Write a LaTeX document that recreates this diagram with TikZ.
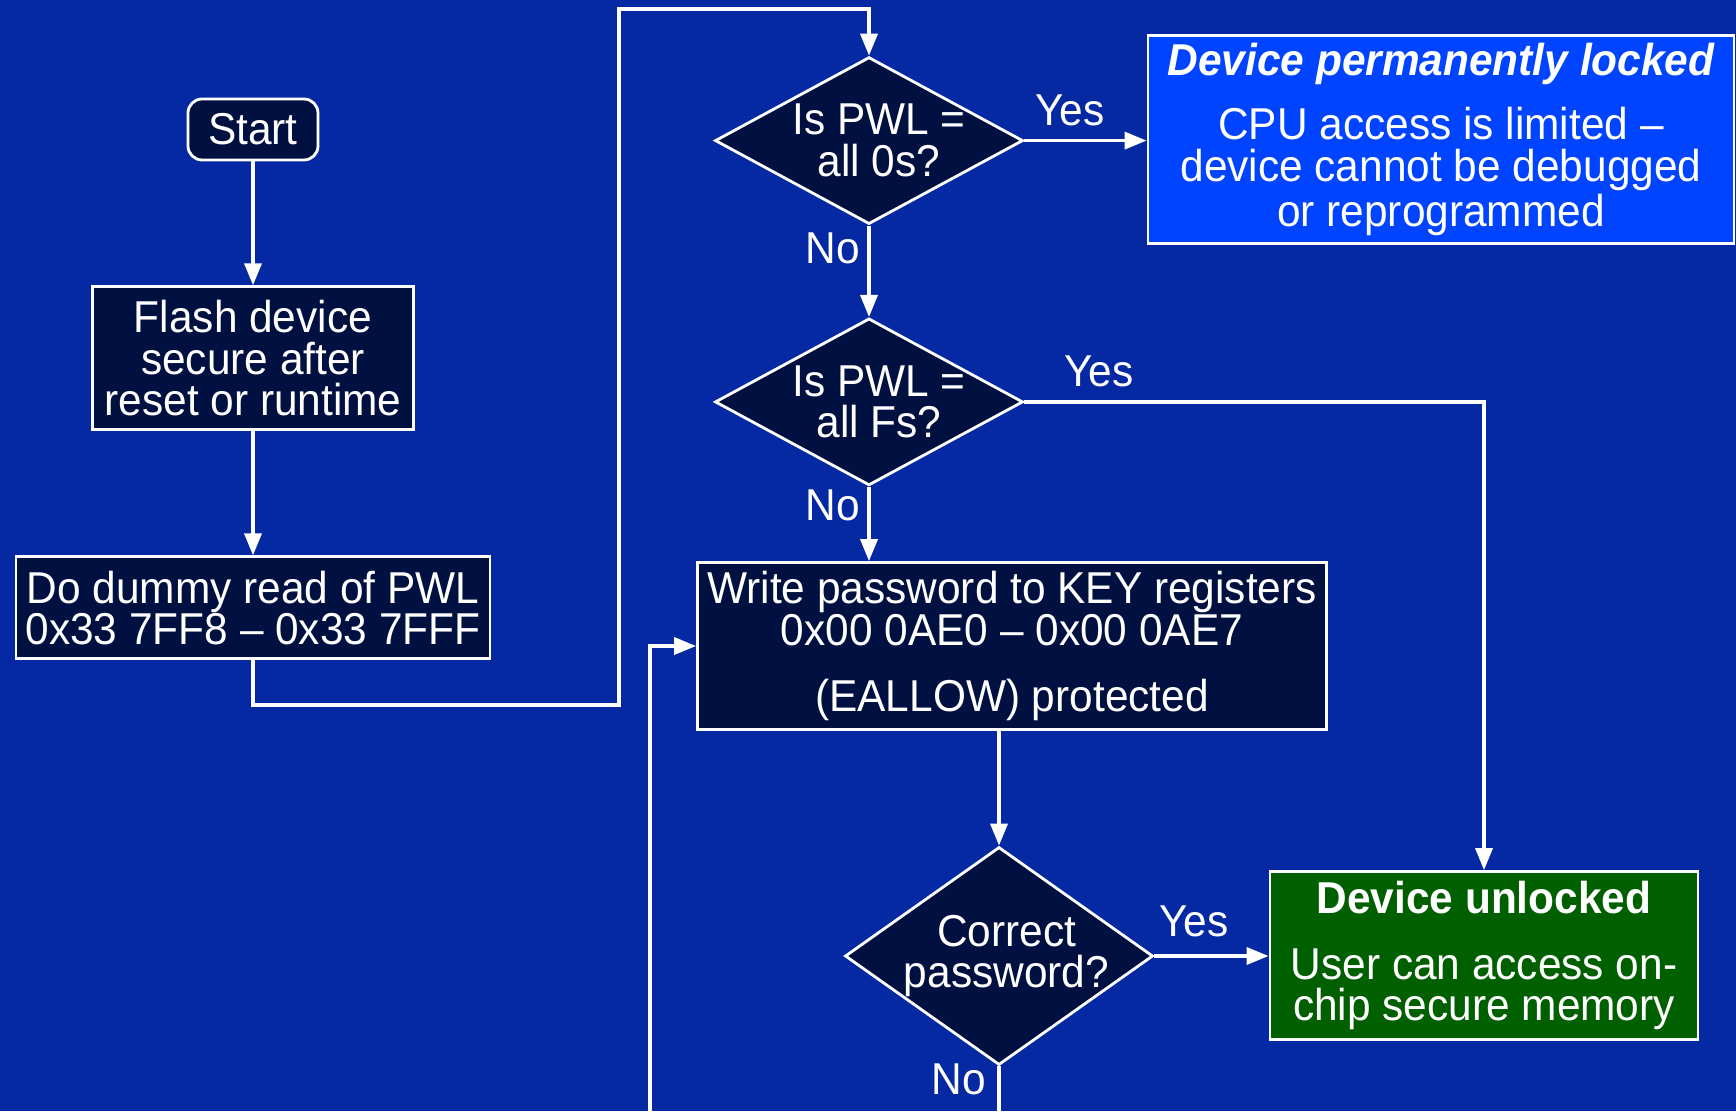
\documentclass[tikz,border=0pt]{standalone}
\usepackage{fontspec}
\setmainfont{Liberation Sans}[FakeStretch=0.95]
\usetikzlibrary{shapes.geometric,arrows.meta}
\definecolor{slideblue}{RGB}{5,41,163}
\definecolor{navybox}{RGB}{0,16,64}
\definecolor{lockblue}{RGB}{0,68,255}
\definecolor{unlockgreen}{RGB}{0,96,0}
\begin{document}
\begin{tikzpicture}[
    >={Triangle[length=2.2mm,width=1.7mm]},
    font=\fontsize{12.7}{11.8}\selectfont,
    flowbox/.style={rectangle, draw=white, line width=0.8pt, fill=navybox, text=white, align=center, inner sep=0pt},
    decision/.style={diamond, draw=white, line width=0.8pt, fill=navybox, text=white, align=center, inner sep=-2pt, aspect=1.84, minimum width=3.08cm, minimum height=1.67cm},
    link/.style={draw=white, line width=1pt},
    answer/.style={text=white}
]
    % background
    \fill[slideblue] (0,0) rectangle (17.36,11.11);
    \clip (0,0) rectangle (17.36,11.11);

    % left column
    \node[flowbox, rounded corners=4pt, minimum width=1.3cm, minimum height=0.61cm] (start) at (2.53,9.815) {Start};
    \node[flowbox, minimum width=3.21cm, minimum height=1.43cm] (secure) at (2.53,7.528) {Flash device\\secure after\\reset or runtime};
    \node[flowbox, minimum width=4.74cm, minimum height=1.02cm] (dummy) at (2.53,5.032) {Do dummy read of PWL\\0x33 7FF8 – 0x33 7FFF};

    \draw[link, ->] (start) -- (secure);
    \draw[link, ->] (secure) -- (dummy);

    % password checks
    \node[decision] (pwlzero) at (8.69,9.704) {\hspace*{0.2cm}Is PWL =\\\hspace*{0.2cm}all 0s?};
    \node[decision] (pwlone) at (8.69,7.091) {\hspace*{0.2cm}Is PWL =\\\hspace*{0.2cm}all Fs?};
    \node[flowbox, minimum width=6.29cm, minimum height=1.67cm] (write) at (10.12,4.65) {Write password to KEY registers\\0x00 0AE0 – 0x00 0AE7\\[7pt](EALLOW) protected};
    \node[decision, aspect=1.41, inner sep=-8pt, minimum height=2.18cm] (check) at (9.99,1.55) {\hspace*{0.15cm}Correct\\\hspace*{0.15cm}password?};

    % outcomes
    \node[flowbox, fill=lockblue, minimum width=5.86cm, minimum height=2.08cm] (locked) at (14.41,9.715) {{\bfseries\itshape Device permanently locked}\\[5.5pt]CPU access is limited –\\device cannot be debugged\\or reprogrammed};
    \node[flowbox, fill=unlockgreen, minimum width=4.28cm, minimum height=1.68cm] (unlocked) at (14.84,1.555) {{\bfseries Device unlocked}\\[7pt]User can access on-\\chip secure memory};

    % connectors
    \coordinate (loopa) at (6.19,4.06);
    \coordinate (loopb) at (6.19,11.02);
    \coordinate (exit) at (9.99,-0.3);
    \coordinate (retry) at (6.50,-0.3);
    \draw[link, ->] (dummy.south) |- (loopa) -- (loopb) -| (pwlzero.north);
    \draw[link, ->] (pwlzero.east) -- (pwlzero.east -| locked.west);
    \draw[link, ->] (pwlzero.south) -- (pwlone.north);
    \draw[link, ->] (pwlone.east) -| (unlocked.north);
    \draw[link, ->] (pwlone.south) -- (pwlone.south |- write.north);
    \draw[link, ->] (write.south -| check.north) -- (check.north);
    \draw[link, ->] (check.east) -- (check.east -| unlocked.west);
    \draw[link] (check.south) -- (exit);
    \draw[link, ->] (retry) |- (write.west);

    % answers
    \node[answer] (yeszero) at (10.70,10.01) {Yes};
    \node[answer] (nozero) at (8.33,8.63) {No};
    \node[answer] (yesone) at (10.99,7.40) {Yes};
    \node[answer] (noone) at (8.33,6.06) {No};
    \node[answer] (yescheck) at (11.94,1.90) {Yes};
    \node[answer] (nocheck) at (9.59,0.32) {No};
\end{tikzpicture}
\end{document}
